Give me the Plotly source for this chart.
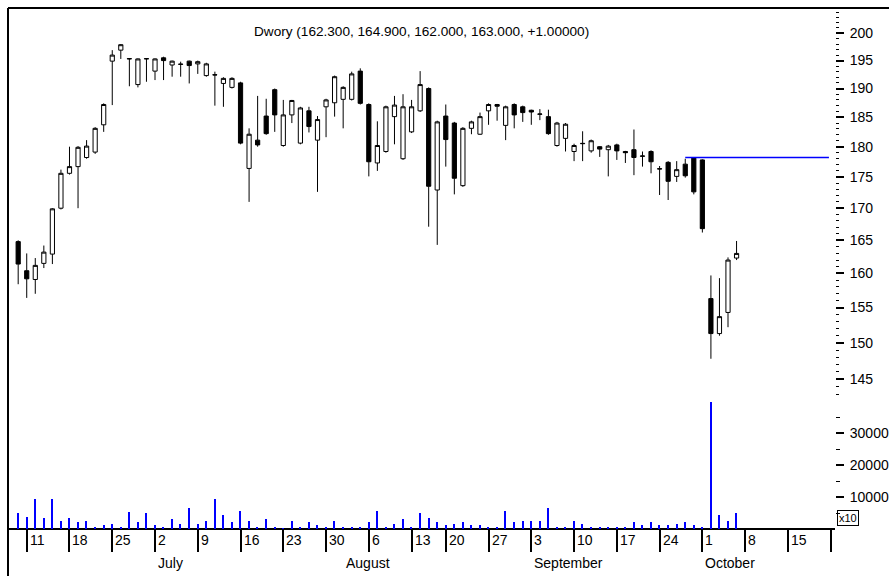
import math
import plotly.graph_objects as go

# ---------------- data ----------------
# trading-day index 0 = 2007-06-08 ... 84 = 2007-10-05 (Aug 15 holiday skipped)
day_index = list(range(85))
opens = [164.8, 160.4, 159.1, 161.5, 162.9, 170.0, 175.6, 176.7, 178.2, 179.1,
         183.7, 194.9, 196.9, 195.3, 190.7, 195.3, 193.1, 195.5, 194.2, 194.3,
         194.9, 194.4, 192.3, 192.4, 190.9, 190.2, 191.0, 176.4, 181.1, 185.2,
         189.8, 180.2, 185.4, 180.6, 186.1, 181.1, 186.8, 187.5, 188.1, 188.1,
         193.1, 187.2, 177.3, 179.2, 185.1, 178.0, 182.5, 186.1, 190.0, 172.9,
         185.2, 184.0, 173.6, 183.1, 182.1, 186.1, 187.2, 183.6, 187.2, 186.8,
         186.2, 185.5, 185.1, 180.2, 181.4, 179.2, 180.5, 179.3, 180.0, 179.5,
         180.3, 179.2, 179.5, 178.4, 179.2, 176.3, 177.4, 175.1, 177.1, 178.1,
         177.8, 156.3, 151.3, 154.3, 162.3]
highs = [165.0, 163.0, 162.3, 164.2, 170.0, 176.2, 180.0, 180.1, 181.1, 183.3,
         187.4, 196.9, 198.0, 195.35, 195.4, 195.35, 195.4, 195.7, 195.0, 194.8,
         195.0, 195.0, 194.6, 193.0, 192.0, 192.0, 191.2, 183.1, 188.7, 188.2,
         190.0, 188.0, 188.0, 186.8, 186.8, 185.2, 188.2, 192.3, 190.4, 193.0,
         193.6, 187.4, 184.3, 187.0, 188.7, 189.0, 188.0, 193.1, 190.2, 184.4,
         187.2, 184.2, 183.3, 184.4, 185.8, 187.4, 187.3, 187.0, 187.4, 187.0,
         186.3, 186.4, 186.3, 184.2, 184.0, 180.5, 182.6, 181.2, 180.1, 180.3,
         180.5, 179.3, 182.9, 179.2, 179.4, 176.8, 177.6, 177.6, 178.0, 178.2,
         177.9, 159.7, 159.3, 162.4, 164.9]
lows = [158.4, 156.4, 157.0, 160.8, 161.4, 169.8, 175.4, 170.0, 178.0, 178.8,
        182.5, 187.1, 195.3, 190.4, 190.2, 191.2, 191.5, 191.5, 192.1, 192.1,
        190.9, 192.6, 192.1, 187.0, 186.8, 190.0, 180.4, 171.0, 180.0, 182.0,
        182.5, 180.0, 184.0, 180.4, 182.4, 172.6, 181.6, 185.1, 183.1, 187.9,
        187.2, 175.1, 176.0, 179.0, 180.4, 177.8, 182.3, 185.9, 167.1, 164.3,
        176.7, 172.2, 173.4, 182.1, 182.0, 183.7, 184.4, 181.1, 183.1, 184.2,
        183.7, 184.5, 182.0, 180.0, 179.2, 177.6, 177.6, 179.0, 178.3, 175.1,
        177.8, 177.3, 175.3, 176.7, 175.6, 172.1, 171.3, 174.2, 174.9, 172.2,
        166.2, 147.8, 151.0, 152.2, 162.0]
closes = [161.4, 159.2, 161.2, 163.2, 169.9, 175.6, 176.7, 179.9, 180.1, 183.1,
          187.2, 196.0, 197.9, 195.35, 195.3, 195.35, 195.3, 195.0, 194.9, 194.35,
          194.1, 194.8, 194.4, 192.45, 191.8, 191.8, 180.6, 182.1, 180.3, 182.2,
          185.4, 185.4, 187.9, 186.6, 183.4, 184.6, 188.0, 192.1, 190.2, 192.6,
          187.4, 177.5, 180.2, 186.8, 187.1, 186.8, 186.8, 190.7, 173.5, 184.2,
          181.2, 174.8, 183.1, 184.2, 185.1, 187.2, 186.9, 186.8, 185.4, 185.8,
          185.9, 185.55, 182.2, 184.0, 183.8, 180.2, 180.55, 181.0, 179.6, 180.1,
          179.3, 179.0, 178.2, 178.45, 177.5, 176.35, 174.3, 176.2, 175.2, 172.6,
          166.8, 151.3, 153.7, 162.0, 163.0]
# volume in axis units (x10)
volumes = [4900, 3900, 9400, 3450, 9400, 2500, 3450, 2100, 2500, 730,
           1250, 1700, 730, 5300, 2100, 4900, 1250, 730, 3000, 1700,
           6700, 1700, 2500, 9400, 4400, 2100, 5750, 2500, 730, 3000,
           730, 300, 2500, 730, 2100, 1250, 730, 2500, 730, 730,
           730, 2100, 5750, 730, 1700, 3000, 730, 4900, 3450, 2100,
           1250, 1700, 2100, 1250, 1250, 730, 730, 5750, 2100, 2500,
           2500, 2500, 6700, 730, 730, 2500, 1700, 730, 730, 730,
           730, 730, 2100, 1250, 2100, 1250, 1250, 1700, 2100, 1250,
           700, 39700, 4400, 2500, 4900]

resistance_x = [78, 94.8]
resistance_y = [178.2, 178.2]

day_tick_idx = [1, 6, 11, 16, 21, 26, 31, 36, 41, 46, 50, 55, 60, 65, 70, 75, 80, 85, 90, 95]
day_tick_text = ["11", "18", "25", "2", "9", "16", "23", "30", "6", "13", "20", "27",
                 "3", "10", "17", "24", "1", "8", "15", "22"]
month_tick_idx = [16, 38, 60, 80]
month_tick_text = ["July", "August", "September", "October"]
price_ticks = [145, 150, 155, 160, 165, 170, 175, 180, 185, 190, 195, 200]
price_minor = list(range(143, 205))
vol_ticks = [10000, 20000, 30000]
vol_minor = [5000, 15000, 25000, 35000]
title_name = "Dwory"

# ---------------- layout geometry ----------------
W, H = 889, 576
ML, MR, MT, MB = 8, 54, 8, 0
PH = H - MT - MB
PW = W - ML - MR


def py(ypix):
    return (H - MB - ypix) / PH


def px(xpix):
    return (xpix - ML) / PW


X_RANGE = [-1.19, 95.51]
FONT = "Liberation Sans, Arial, sans-serif"

fig = go.Figure()

fig.add_trace(go.Candlestick(
    x=day_index, open=opens, high=highs, low=lows, close=closes,
    increasing=dict(line=dict(color="black", width=1), fillcolor="white"),
    decreasing=dict(line=dict(color="black", width=1), fillcolor="black"),
    whiskerwidth=0, hoverinfo="skip", xaxis="x", yaxis="y", showlegend=False,
))

fig.add_trace(go.Scatter(
    x=resistance_x, y=resistance_y, mode="lines",
    line=dict(color="#0000ff", width=1.6), xaxis="x", yaxis="y",
    hoverinfo="skip", showlegend=False,
))

fig.add_trace(go.Bar(
    x=day_index, y=volumes, width=0.16, marker=dict(color="#0000ff", line=dict(width=0)),
    xaxis="x", yaxis="y2", hoverinfo="skip", showlegend=False,
))

price_top, price_bot = 8, 397
vol_bot = 529
vol_per_px = 10000 / 32.0

annotations = []
last = len(closes) - 1
title_text = "%s (%.3f, %.3f, %.3f, %.3f, %+.5f)" % (
    title_name, opens[last], highs[last], lows[last], closes[last], closes[last] - closes[last - 1])
annotations.append(dict(text=title_text, x=0.5, y=py(31), xref="paper", yref="paper",
                        showarrow=False, xanchor="center", yanchor="middle",
                        font=dict(family=FONT, size=13.6, color="black")))

for i, t in zip(day_tick_idx, day_tick_text):
    if i + 1.5 > X_RANGE[1]:
        continue
    annotations.append(dict(text=t, x=i, y=py(540), xref="x", yref="paper",
                            showarrow=False, xanchor="left", yanchor="middle", xshift=1,
                            font=dict(family=FONT, size=14, color="black")))
for i, t in zip(month_tick_idx, month_tick_text):
    annotations.append(dict(text=t, x=i, y=py(563), xref="x", yref="paper",
                            showarrow=False, xanchor="left", yanchor="middle", xshift=1,
                            font=dict(family=FONT, size=14, color="black")))

annotations.append(dict(text="x10", x=px(837), y=py(518), xref="paper", yref="paper",
                        showarrow=False, xanchor="left", yanchor="middle",
                        bordercolor="black", borderwidth=1, borderpad=1,
                        font=dict(family=FONT, size=11, color="black")))

shapes = [
    dict(type="line", xref="paper", yref="paper", x0=0, x1=px(W), y0=1, y1=1,
         line=dict(color="black", width=2)),
    dict(type="line", xref="paper", yref="paper", x0=0, x1=0, y0=0, y1=1,
         line=dict(color="black", width=2)),
]

fig.update_layout(
    width=W, height=H,
    margin=dict(l=ML, r=MR, t=MT, b=MB, pad=0, autoexpand=False),
    paper_bgcolor="white", plot_bgcolor="white",
    font=dict(family=FONT, size=14, color="black"),
    showlegend=False,
    bargap=0,
    xaxis=dict(
        range=X_RANGE, anchor="free", position=py(vol_bot),
        tickmode="array", tickvals=day_tick_idx, showticklabels=False,
        ticks="outside", ticklen=22, tickwidth=1.5, tickcolor="black",
        showline=True, linecolor="black", linewidth=1.5,
        showgrid=False, zeroline=False, rangeslider=dict(visible=False),
        fixedrange=True,
    ),
    xaxis2=dict(
        range=X_RANGE, overlaying="x", anchor="free", position=py(551),
        tickmode="array", tickvals=month_tick_idx, showticklabels=False,
        ticks="outside", ticklen=25, tickwidth=1.5, tickcolor="black",
        showline=True, linecolor="black", linewidth=1.5,
        showgrid=False, zeroline=False,
    ),
    yaxis=dict(
        type="log", side="right", anchor="x",
        domain=[py(price_bot), 1],
        range=[math.log10(math.exp((5733.8 - price_bot) / 1075.9)),
               math.log10(math.exp((5733.8 - price_top) / 1075.9))],
        tickmode="array", tickvals=price_ticks, ticktext=[str(v) for v in price_ticks],
        ticks="outside", ticklen=8, tickwidth=1.5, tickcolor="black",
        minor=dict(tickmode="array", tickvals=price_minor, ticks="outside", ticklen=3,
                   tickwidth=1, tickcolor="black", showgrid=False),
        ticklabelstandoff=3,
        showline=False, showgrid=False, zeroline=False,
        tickfont=dict(family=FONT, size=14, color="black"),
    ),
    yaxis2=dict(
        side="right", anchor="x",
        domain=[py(vol_bot), py(price_bot)],
        range=[0, (vol_bot - price_bot) * vol_per_px],
        tickmode="array", tickvals=vol_ticks, ticktext=[str(v) for v in vol_ticks],
        ticks="outside", ticklen=8, tickwidth=1.5, tickcolor="black",
        minor=dict(tickmode="array", tickvals=vol_minor, ticks="outside", ticklen=4,
                   tickwidth=1, tickcolor="black", showgrid=False),
        ticklabelstandoff=3,
        showline=False, showgrid=False, zeroline=False,
        tickfont=dict(family=FONT, size=14, color="black"),
    ),
    annotations=annotations,
    shapes=shapes,
)

fig.write_html("out.html", config={"displayModeBar": False},
               post_script="document.body.style.margin='0';")
